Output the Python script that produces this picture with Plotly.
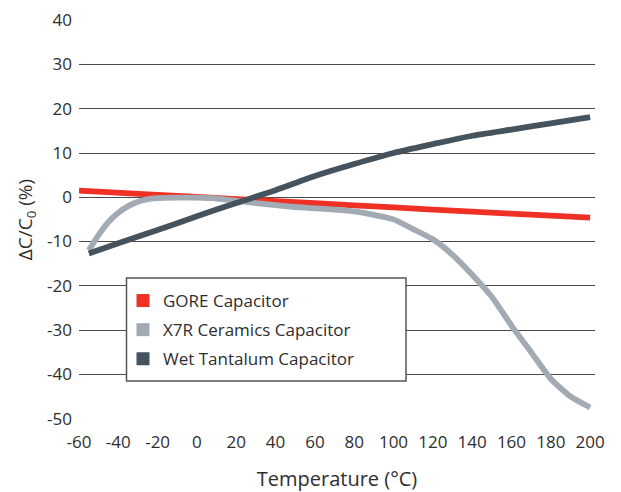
import plotly.graph_objects as go

# ---- data ----
gore_temp = [-60, -20, 20, 60, 100, 140, 180, 200]
gore_val = [1.5, 0.55, -0.4, -1.35, -2.3, -3.25, -4.15, -4.6]

x7r_temp = [-55, -50, -45, -40, -35, -30, -25, -20, -10, 0, 10, 20, 30, 40, 50, 60, 70, 80,
            90, 100, 110, 120, 130, 140, 150, 160, 170, 180, 190, 200]
x7r_val = [-12.0, -8.5, -5.6, -3.5, -2.0, -1.0, -0.4, -0.2, -0.1, -0.1, -0.3, -0.8, -1.3, -1.8,
           -2.2, -2.5, -2.8, -3.2, -4.0, -5.0, -7.2, -9.5, -13.0, -17.5, -22.5, -29.0, -35.0,
           -41.0, -45.0, -47.5]

tant_temp = [-55, -40, -20, 0, 20, 40, 60, 80, 100, 120, 140, 160, 180, 200]
tant_val = [-12.7, -10.4, -7.4, -4.3, -1.3, 1.6, 4.8, 7.5, 10.0, 12.0, 13.9, 15.3, 16.7, 18.1]

series_names = ["GORE Capacitor", "X7R Ceramics Capacitor", "Wet Tantalum Capacitor"]
colors = ["#ee3124", "#a2abb3", "#45535e"]

x_ticks = [-60, -40, -20, 0, 20, 40, 60, 80, 100, 120, 140, 160, 180, 200]
x_tick_text = ["-60", "-40", "-20", "0", "20", "40", "60", "80", "100", "120", "140", "160", "180", "200"]
y_ticks = [-50, -40, -30, -20, -10, 0, 10, 20, 30, 40]
y_tick_text = ["-50", "-40", "-30", "-20", "-10", "0", "10", "20", "30", "40"]

FONT = "Open Sans"
TXT = "#2e2e2e"
W, H = 621, 492
L, R, T, B = 79, 26, 20, 73
PW, PH = W - L - R, H - T - B

fig = go.Figure()
data = [(gore_temp, gore_val), (x7r_temp, x7r_val), (tant_temp, tant_val)]
for (xs, ys), name, c in zip(data, series_names, colors):
    fig.add_trace(go.Scatter(x=xs, y=ys, mode="lines", name=name, showlegend=False,
                             line=dict(color=c, width=5.8, shape="spline", smoothing=0.6),
                             hoverinfo="skip"))
# legend-only square markers
for i, (name, c) in enumerate(zip(series_names, colors)):
    fig.add_trace(go.Scatter(x=[None], y=[None], mode="markers", name=name,
                             legendgroup=f"g{i}",
                             marker=dict(symbol="square", size=13, color=c)))

def px_x(p):
    return (p - L) / PW

def px_y(p):
    return (H - B - p) / PH

# legend box
fig.add_shape(type="rect", xref="paper", yref="paper", layer="above",
              x0=px_x(126.5), x1=px_x(406), y0=px_y(381), y1=px_y(278),
              fillcolor="white", line=dict(color="#555555", width=1.5))

fig.update_layout(
    width=W, height=H,
    margin=dict(l=L, r=R, t=T, b=B, autoexpand=False),
    plot_bgcolor="white", paper_bgcolor="white",
    font=dict(family=FONT, size=17, color=TXT),
    showlegend=True,
    legend=dict(x=px_x(123), y=px_y(283), xanchor="left", yanchor="top",
                bgcolor="rgba(0,0,0,0)", borderwidth=0,
                font=dict(family=FONT, size=17, color=TXT),
                tracegroupgap=4, itemsizing="trace"),
    xaxis=dict(range=[-60, 202.5], tickvals=x_ticks, ticktext=x_tick_text, showgrid=False,
               zeroline=False, showline=False, ticks="", ticklabelstandoff=11, automargin=False,
               title=dict(text="Temperature (°C)", font=dict(size=20), standoff=24)),
    yaxis=dict(range=[-50.1, 40.05], tickvals=y_ticks, ticktext=y_tick_text, showgrid=True,
               gridcolor="#4a4a4a", gridwidth=1, zeroline=False, showline=False, ticks="",
               ticklabelstandoff=6, automargin=False,
               title=dict(text="ΔC/C<sub>0</sub> (%)", font=dict(size=19), standoff=9)),
)

fig.write_html("out.html", post_script="document.body.style.margin='0';",
               config={"displayModeBar": False})
